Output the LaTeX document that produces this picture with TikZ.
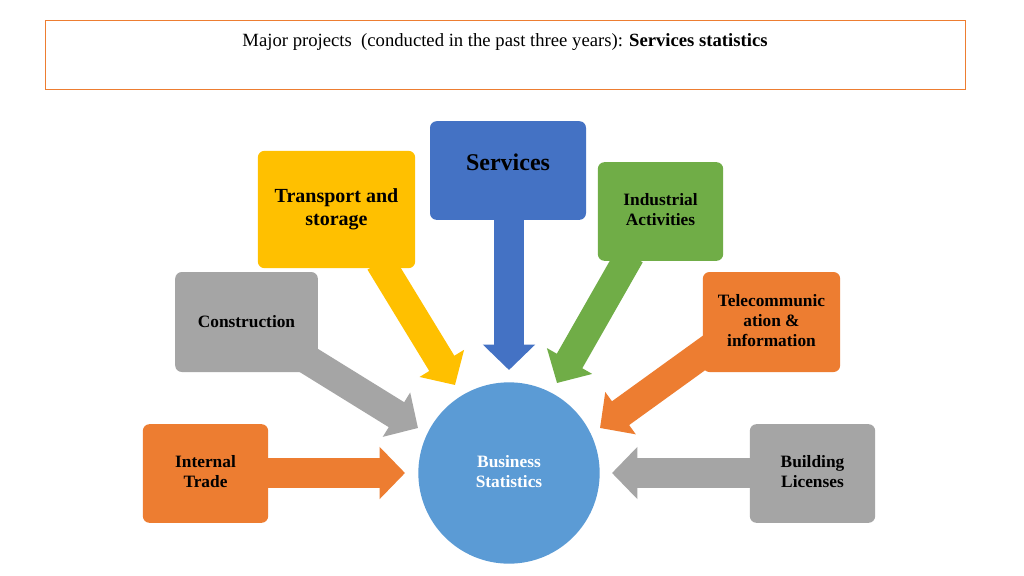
\documentclass[tikz,border=0pt]{standalone}
\usepackage{fontspec}
\setmainfont{Liberation Serif}
\usetikzlibrary{arrows.meta}
\definecolor{cblue}{HTML}{4472C4}
\definecolor{cyel}{HTML}{FFC000}
\definecolor{cgreen}{HTML}{70AD47}
\definecolor{cgray}{HTML}{A5A5A5}
\definecolor{corange}{HTML}{ED7D31}
\definecolor{clblue}{HTML}{5B9BD5}
\begin{document}
\begin{tikzpicture}[x=0.75pt,y=-0.75pt,
  box/.style={rounded corners=5pt,inner sep=0pt,align=center,font=\bfseries\fontsize{13}{15}\selectfont},
  arr/.style={line width=22pt,-{Triangle[length=19pt,width=38pt]}}]
\useasboundingbox (0,0) rectangle (1024,575);
\fill[white] (0,0) rectangle (1024,575);
\node[draw=corange,minimum width=690pt,minimum height=51.75pt,inner sep=0pt] (title) at (505,54.5) {};
\node[font=\fontsize{14}{16}\selectfont] (tt) at (505,42) {Major projects\ \ (conducted in the past three years): \textbf{Services statistics}};
% arrow coordinates
\coordinate (s1) at (509,215); \coordinate (s2) at (509,370);
\coordinate (t1) at (380,262); \coordinate (t2) at (455,385);
\coordinate (i1) at (630,255); \coordinate (i2) at (557,383);
\coordinate (c1) at (300,355); \coordinate (c2) at (418,428);
\coordinate (e1) at (715,345); \coordinate (e2) at (600,428);
\coordinate (n1) at (265,473); \coordinate (n2) at (405,473);
\coordinate (b1) at (755,473); \coordinate (b2) at (612,473);
\draw[arr,cblue] (s1) -- (s2);
\draw[arr,cyel] (t1) -- (t2);
\draw[arr,cgreen] (i1) -- (i2);
\draw[arr,cgray] (c1) -- (c2);
\draw[arr,corange] (e1) -- (e2);
\draw[arr,corange] (n1) -- (n2);
\draw[arr,cgray] (b1) -- (b2);
\node[box,fill=cblue,minimum width=117pt,minimum height=74pt,font=\bfseries\fontsize{18}{20}\selectfont] (serv) at (508,170.5) {\raisebox{12pt}{Services}};
\node[box,fill=cyel,minimum width=118pt,minimum height=88pt,font=\bfseries\fontsize{15}{17}\selectfont] (trans) at (336.5,209.5) {\raisebox{8pt}{\begin{tabular}{c}Transport and\\storage\end{tabular}}};
\node[box,fill=cgreen,minimum width=94pt,minimum height=74pt] (ind) at (660.5,211.5) {\raisebox{2pt}{\begin{tabular}{c}Industrial\\Activities\end{tabular}}};
\node[box,fill=cgray,minimum width=107pt,minimum height=75pt] (cons) at (246.5,322) {Construction};
\node[box,fill=corange,minimum width=103pt,minimum height=75pt] (tele) at (771.5,322) {\begin{tabular}{c}Telecommunic\\ation \&\\information\end{tabular}};
\node[box,fill=corange,minimum width=94pt,minimum height=74pt] (itr) at (205.5,473.5) {\begin{tabular}{c}Internal\\Trade\end{tabular}};
\node[box,fill=cgray,minimum width=94pt,minimum height=74pt] (bld) at (812.5,473.5) {\begin{tabular}{c}Building\\Licenses\end{tabular}};
\node[circle,fill=clblue,minimum size=136pt,inner sep=0pt,text=white,font=\bfseries\fontsize{13}{15}\selectfont,align=center] (bs) at (509,473) {\begin{tabular}{c}Business\\Statistics\end{tabular}};
\end{tikzpicture}
\end{document}
